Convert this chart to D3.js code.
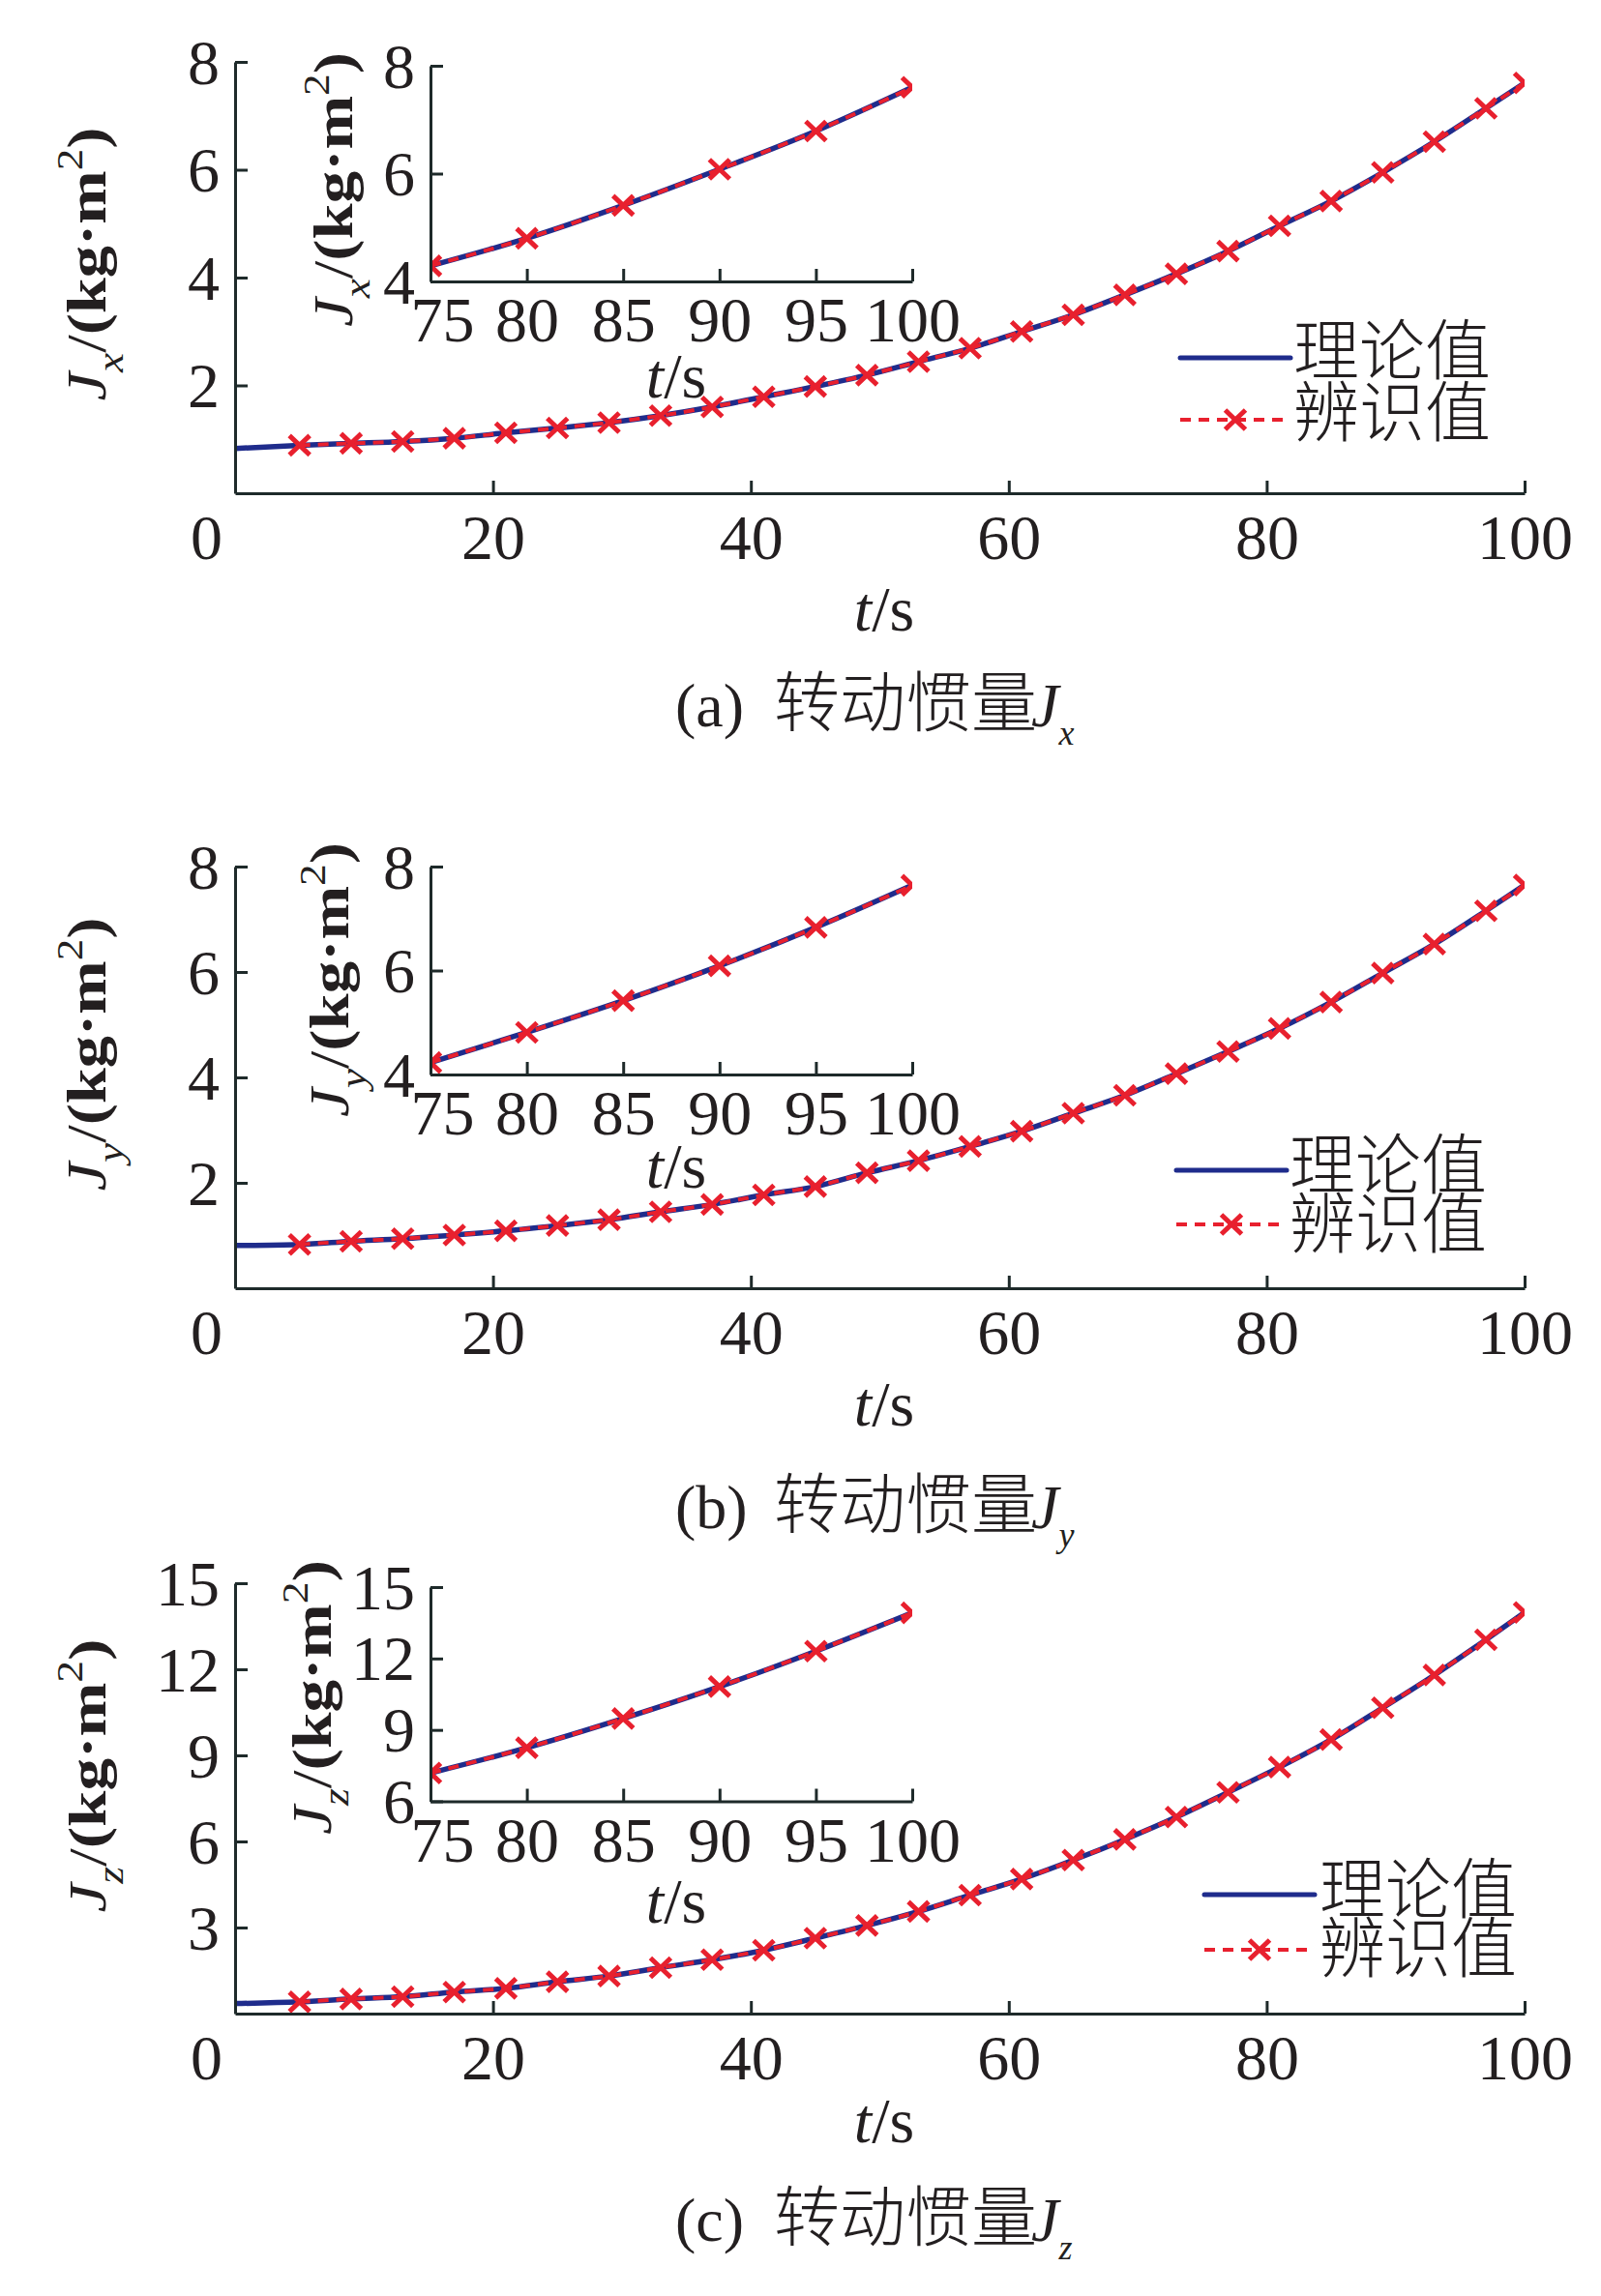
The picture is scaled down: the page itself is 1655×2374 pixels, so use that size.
<!DOCTYPE html>
<html>
<head>
<meta charset="utf-8">
<script src="https://cdn.jsdelivr.net/npm/d3@7"></script>
<style>
  body { margin: 0; background: #fff; }
  svg { display: block; }
</style>
</head>
<body>
<div id="chart"></div>
<script>
//* data
var tMain = [0, 5, 9, 13, 17, 21, 25, 29, 33, 37, 41, 45, 49, 53, 57, 61, 65, 69, 73, 77, 81, 85, 89, 93, 97, 100]
var jxTheory = [0.83, 0.89, 0.925, 0.96, 1.02, 1.12, 1.21, 1.31, 1.44, 1.60, 1.79, 1.98, 2.19, 2.44, 2.69, 3.00, 3.31, 3.68, 4.07, 4.49, 4.96, 5.42, 5.95, 6.52, 7.14, 7.61]
var jyTheory = [0.81, 0.83, 0.89, 0.94, 1.01, 1.09, 1.19, 1.30, 1.45, 1.59, 1.77, 1.93, 2.19, 2.42, 2.69, 2.98, 3.32, 3.66, 4.07, 4.49, 4.93, 5.43, 5.98, 6.53, 7.16, 7.65]
var jzTheory = [0.35, 0.41, 0.51, 0.59, 0.75, 0.88, 1.11, 1.31, 1.60, 1.88, 2.21, 2.63, 3.07, 3.56, 4.13, 4.69, 5.35, 6.07, 6.85, 7.71, 8.59, 9.55, 10.66, 11.80, 13.03, 13.98]
//? identified curve sits on the theory curve, its samples start at t=5
var tIdent = tMain.slice(1)
var jxIdent = jxTheory.slice(1)
var jyIdent = jyTheory.slice(1)
var jzIdent = jzTheory.slice(1)

//* zoomed insets (75..100 s)
var tInset = [75, 80, 85, 90, 95, 100]
var jxInset = [4.29, 4.80, 5.41, 6.08, 6.79, 7.60]
var jyInset = [4.23, 4.81, 5.42, 6.09, 6.83, 7.64]
var jzInset = [7.19, 8.25, 9.48, 10.82, 12.31, 13.92]

//* ticks and labels
var xTicksMain = [0, 20, 40, 60, 80, 100]
var xTicksInset = [75, 80, 85, 90, 95, 100]
var yTicksXY = [2, 4, 6, 8]
var yTicksZ = [3, 6, 9, 12, 15]
var yTicksInsetXY = [4, 6, 8]
var yTicksInsetZ = [6, 9, 12, 15]
var subs = ["x", "y", "z"]
var tags = ["(a)", "(b)", "(c)"]
var captionText = "转动惯量"
var legendLabels = ["理论值", "辨识值"]

//* layout of the three panels (pixels)
var W = 1655, H = 2374
var serif = "'Liberation Serif','Times New Roman',serif"
var cjk = "'Noto Sans CJK SC','Noto Sans CJK JP',sans-serif"
var axisColor = "#1e2a2a", textColor = "#231f20"
var blue = "#1f2c8c", red = "#e8202e"

var panels = [
  {theory: jxTheory, ident: jxIdent, inset: jxInset, yMax: 8, yTicks: yTicksXY, iMin: 4, iMax: 8, iTicks: yTicksInsetXY,
   top: 64, bottom: 510, iTop: 68, iBottom: 291, ylab: [109, 273], iylab: [364, 196], xlabY: 652, ixlabY: 411,
   legX: 1220, legY: [370, 434], legTextX: 1337, legBase: [387, 451], capY: 751},
  {theory: jyTheory, ident: jyIdent, inset: jyInset, yMax: 8, yTicks: yTicksXY, iMin: 4, iMax: 8, iTicks: yTicksInsetXY,
   top: 896, bottom: 1332, iTop: 896, iBottom: 1111, ylab: [109, 1090], iylab: [360, 1013], xlabY: 1474, ixlabY: 1228,
   legX: 1216, legY: [1210, 1266], legTextX: 1333, legBase: [1229, 1290], capY: 1580},
  {theory: jzTheory, ident: jzIdent, inset: jzInset, yMax: 15, yTicks: yTicksZ, iMin: 6, iMax: 15, iTicks: yTicksInsetZ,
   top: 1637, bottom: 2082, iTop: 1641, iBottom: 1862.5, ylab: [109, 1836], iylab: [342, 1755], xlabY: 2215, ixlabY: 1988,
   legX: 1245, legY: [1959, 2016], legTextX: 1364, legBase: [1978, 2039], capY: 2317}
]

var svg = d3.select("#chart").append("svg")
  .attr("width", W).attr("height", H)
  .attr("viewBox", "0 0 " + W + " " + H)
svg.append("rect").attr("width", W).attr("height", H).attr("fill", "#fff")
var defs = svg.append("defs")

var xMain = d3.scaleLinear().domain([0, 100]).range([243, 1576])
var xIn = d3.scaleLinear().domain([75, 100]).range([445, 943])

var crossPath = "M-10.5,-10L10.5,10M-10.5,10L10.5,-10"

function styleAxis(g) {
  g.select(".domain").attr("stroke", axisColor).attr("stroke-width", 3)
  g.selectAll(".tick line").attr("stroke", axisColor).attr("stroke-width", 3)
  g.selectAll("text").attr("font-family", serif).attr("font-size", 66).attr("fill", textColor)
}

// draws one axes box: lines, markers and axes
function drawPlot(id, x, y, tTh, vTh, tId, vId, xTicks, yTicks, xLabOff) {
  var x0 = x.range()[0], x1 = x.range()[1]
  var y0 = y.range()[0], y1 = y.range()[1]
  defs.append("clipPath").attr("id", id)
    .append("rect").attr("x", x0).attr("y", y1).attr("width", x1 - x0).attr("height", y0 - y1)

  var line = d3.line()
    .x(function(d) { return x(d[0]) })
    .y(function(d) { return y(d[1]) })
    .curve(d3.curveMonotoneX)

  var plot = svg.append("g").attr("clip-path", "url(#" + id + ")")
  plot.append("path")
    .attr("d", line(d3.zip(tTh, vTh)))
    .attr("fill", "none").attr("stroke", blue).attr("stroke-width", 5.5)
  plot.append("path")
    .attr("d", line(d3.zip(tId, vId)))
    .attr("fill", "none").attr("stroke", red).attr("stroke-width", 4)
    .attr("stroke-dasharray", "11,8")
  plot.selectAll(".mk")
    .data(d3.zip(tId, vId))
    .enter().append("path")
    .attr("transform", function(d) { return "translate(" + x(d[0]) + "," + y(d[1]) + ")" })
    .attr("d", crossPath)
    .attr("stroke", red).attr("stroke-width", 5).attr("fill", "none")

  var fmt = d3.format("d")
  var gx = svg.append("g").attr("transform", "translate(0," + y0 + ")")
    .call(d3.axisBottom(x).tickValues(xTicks).tickFormat(fmt).tickSizeInner(-13).tickSizeOuter(0))
  styleAxis(gx)
  gx.selectAll("text").attr("y", xLabOff).attr("dy", null)
    .attr("dx", function(d, i) { return i == 0 ? (d == 0 ? -30 : 12) : 0 })

  var gy = svg.append("g").attr("transform", "translate(" + x0 + ",0)")
    .call(d3.axisLeft(y).tickValues(yTicks).tickFormat(fmt).tickSizeInner(-13).tickSizeOuter(0).tickPadding(16))
  styleAxis(gy)
  gy.selectAll("text").attr("dy", null).attr("y", 22)
}

// rotated y title J_s/(kg·m^2), stretched along its length like the original
function yTitle(cx, cy, sub, len) {
  var g = svg.append("g")
  var t = g.append("text")
    .attr("font-family", serif).attr("font-size", 56).attr("fill", textColor)
    .attr("text-anchor", "middle")
  t.append("tspan").attr("font-style", "italic").text("J")
  t.append("tspan").attr("font-style", "italic").attr("font-size", 38).attr("dy", 18).text(sub)
  t.append("tspan").attr("dy", -18).text("/")
  t.append("tspan").attr("font-weight", "bold").text("(kg·m")
  t.append("tspan").attr("font-size", 38).attr("dy", -24).text("2")
  t.append("tspan").attr("font-weight", "bold").attr("dy", 24).text(")")
  var w = t.node().getComputedTextLength()
  var sx = len / w
  g.attr("transform", "translate(" + cx + "," + cy + ") rotate(-90) scale(" + sx + ",1)")
}

function tsLabel(cx, base) {
  var t = svg.append("text")
    .attr("x", cx).attr("y", base)
    .attr("font-family", serif).attr("font-size", 66).attr("fill", textColor)
    .attr("text-anchor", "middle")
  t.append("tspan").attr("font-style", "italic").text("t")
  t.append("tspan").text("/s")
}

panels.forEach(function(p, k) {
  var yMain = d3.scaleLinear().domain([0, p.yMax]).range([p.bottom, p.top])
  var yIn = d3.scaleLinear().domain([p.iMin, p.iMax]).range([p.iBottom, p.iTop])

  drawPlot("clipMain" + k, xMain, yMain, tMain, p.theory, tIdent, p.ident, xTicksMain, p.yTicks, 68)
  drawPlot("clipIn" + k, xIn, yIn, tInset, p.inset, tInset, p.inset, xTicksInset, p.iTicks, 62)

  yTitle(p.ylab[0], p.ylab[1], subs[k], 283)
  yTitle(p.iylab[0], p.iylab[1], subs[k], 284)
  tsLabel(914, p.xlabY)
  tsLabel(699, p.ixlabY)

  //* legend
  var lg = svg.append("g")
  lg.append("line")
    .attr("x1", p.legX).attr("x2", p.legX + 114).attr("y1", p.legY[0]).attr("y2", p.legY[0])
    .attr("stroke", blue).attr("stroke-width", 5).attr("stroke-linecap", "round")
  lg.append("line")
    .attr("x1", p.legX).attr("x2", p.legX + 114).attr("y1", p.legY[1]).attr("y2", p.legY[1])
    .attr("stroke", red).attr("stroke-width", 4).attr("stroke-dasharray", "11,8")
  lg.append("path")
    .attr("transform", "translate(" + (p.legX + 57) + "," + p.legY[1] + ")")
    .attr("d", crossPath).attr("stroke", red).attr("stroke-width", 5).attr("fill", "none")
  lg.selectAll(".lt")
    .data(legendLabels)
    .enter().append("text")
    .attr("x", p.legTextX)
    .attr("y", function(d, i) { return p.legBase[i] })
    .attr("font-family", cjk).attr("font-size", 68).attr("font-weight", 300).attr("fill", textColor)
    .text(function(d) { return d })

  //* caption
  var cap = svg.append("g")
  cap.append("text").attr("x", 698).attr("y", p.capY)
    .attr("font-family", serif).attr("font-size", 64).attr("fill", textColor).text(tags[k])
  cap.append("text").attr("x", 800).attr("y", p.capY)
    .attr("font-family", cjk).attr("font-size", 68).attr("font-weight", 300).attr("fill", textColor)
    .text(captionText)
  var cj = cap.append("text").attr("x", 1066).attr("y", p.capY)
    .attr("font-family", serif).attr("font-size", 64).attr("font-style", "italic").attr("fill", textColor)
  cj.append("tspan").text("J")
  cj.append("tspan").attr("font-size", 36).attr("dy", 19).text(subs[k])
})
</script>
</body>
</html>
